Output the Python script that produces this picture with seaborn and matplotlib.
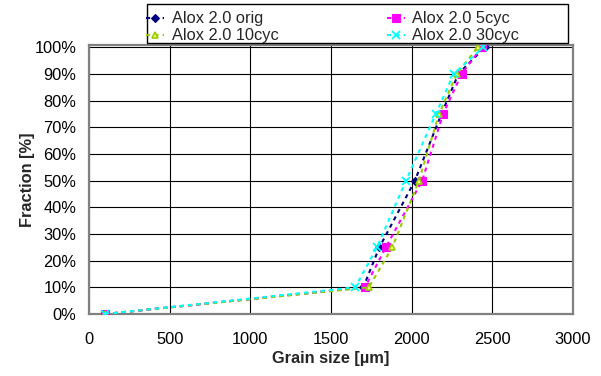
import matplotlib
matplotlib.use("Agg")
import matplotlib.pyplot as plt
from matplotlib.patches import Rectangle
import seaborn as sns
import pandas as pd
from matplotlib.ticker import FixedLocator, FuncFormatter

# Cumulative grain size distribution (fraction in %, grain size in µm)
fraction = [0, 10, 25, 50, 75, 90, 100]
size_orig = [100, 1700, 1800, 2020, 2185, 2290, 2455]
size_5cyc = [100, 1710, 1840, 2065, 2195, 2310, 2435]
size_10cyc = [100, 1735, 1880, 2045, 2170, 2280, 2410]
size_30cyc = [100, 1650, 1785, 1965, 2150, 2260, 2445]

series_names = ["Alox 2.0 orig", "Alox 2.0 5cyc", "Alox 2.0 10cyc", "Alox 2.0 30cyc"]
series_sizes = [size_orig, size_5cyc, size_10cyc, size_30cyc]

x_ticks = [0, 500, 1000, 1500, 2000, 2500, 3000]
y_ticks = [0, 10, 20, 30, 40, 50, 60, 70, 80, 90, 100]

sns.set_style("white")
plt.rcParams["font.family"] = ["Liberation Sans", "DejaVu Sans"]

styles = {
    "Alox 2.0 orig": dict(color="#000080", marker="D", ms=4.5, mfc="#000080", mec="#000080", mew=0.8),
    "Alox 2.0 5cyc": dict(color="#FF00FF", marker="s", ms=6, mfc="#FF00FF", mec="#FF00FF", mew=0.8),
    "Alox 2.0 10cyc": dict(color="#99CC00", marker="^", ms=5, mfc="#FFFF80", mec="#99CC00", mew=1.2),
    "Alox 2.0 30cyc": dict(color="#00FFFF", marker="x", ms=6, mfc="#00FFFF", mec="#00FFFF", mew=1.3),
}

frames = []
for name, sizes in zip(series_names, series_sizes):
    frames.append(pd.DataFrame({"series": name, "size": sizes, "fraction": fraction}))
df = pd.concat(frames, ignore_index=True)

fig = plt.figure(figsize=(6.01, 3.76), dpi=100)
W, H = 601, 376
ax = fig.add_axes([89 / W, 1 - 314 / H, (573 - 89) / W, (314 - 45) / H])

handles = {}
for name in series_names:
    st = styles[name]
    sub = df[df["series"] == name]
    sns.lineplot(data=sub, x="size", y="fraction", ax=ax, sort=False, estimator=None,
                 color=st["color"], marker=st["marker"], markersize=st["ms"],
                 markerfacecolor=st["mfc"], markeredgecolor=st["mec"],
                 markeredgewidth=st["mew"], linewidth=1.5, dashes=(2, 2),
                 legend=False, zorder=3)
    handles[name] = ax.lines[-1]

ax.set_xlim(0, 3000)
ax.set_ylim(0, 100.8)
ax.xaxis.set_major_locator(FixedLocator(x_ticks))
ax.yaxis.set_major_locator(FixedLocator(y_ticks))
ax.yaxis.set_major_formatter(FuncFormatter(lambda v, p: f"{v:.0f}%"))
ax.grid(True, color="black", linewidth=0.8)
ax.set_axisbelow(True)

for sp in ax.spines.values():
    sp.set_visible(True)
    sp.set_color("#808080")
    sp.set_linewidth(1.6)

ax.tick_params(axis="both", which="major", direction="out", length=4, width=1,
               color="#808080", labelsize=11.8, labelcolor="black")
ax.tick_params(axis="x", pad=9)
ax.tick_params(axis="y", pad=5)

ax.set_xlabel("Grain size [µm]", fontsize=11.8, fontweight="bold", labelpad=3)
ax.set_ylabel("Fraction [%]", fontsize=11.8, fontweight="bold", labelpad=0)

# Legend box spanning above the plot area
fig.add_artist(Rectangle((147 / W, 1 - 42.5 / H), 421 / W, 38.5 / H,
                         transform=fig.transFigure, facecolor="white",
                         edgecolor="black", linewidth=1.0, zorder=4))

order = ["Alox 2.0 orig", "Alox 2.0 10cyc", "Alox 2.0 5cyc", "Alox 2.0 30cyc"]
leg = fig.legend([handles[n] for n in order], order, ncol=2,
                 loc="upper left", bbox_to_anchor=(144 / W, 1 - 9 / H),
                 fontsize=11.8, frameon=False,
                 borderaxespad=0, borderpad=0.15, labelspacing=0.12,
                 handlelength=1.1, handletextpad=0.45, columnspacing=6.6)
leg.set_zorder(5)

fig.savefig("out.png", dpi=100)
